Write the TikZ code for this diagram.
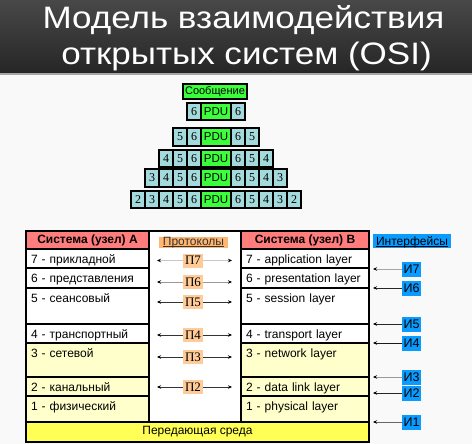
\documentclass[tikz,border=0pt]{standalone}
\usepackage{fontspec}
\setmainfont{Liberation Sans}
\newfontfamily\serifface{Liberation Serif}
\newfontfamily\titleface[FakeStretch=1.13]{Liberation Sans}
\usetikzlibrary{positioning,arrows.meta}

\definecolor{bartop}{RGB}{72,72,72}
\definecolor{barbot}{RGB}{38,38,38}
\definecolor{bodybg}{RGB}{249,249,249}
\definecolor{cellblue}{RGB}{164,218,220}
\definecolor{pdugreen}{RGB}{60,255,60}
\definecolor{hdrred}{RGB}{255,125,125}
\definecolor{paleyel}{RGB}{255,255,204}
\definecolor{medyel}{RGB}{255,255,85}
\definecolor{protorange}{RGB}{255,182,112}
\definecolor{plabel}{RGB}{255,204,153}
\definecolor{iblue}{RGB}{10,155,255}

\newcommand{\tabfont}{\fontsize{12}{14}\selectfont}
\newcommand{\uline}[1]{\setbox0\hbox{#1}\rlap{\rule[-1.6pt]{\wd0}{0.9pt}}\box0}

\tikzset{
  cell/.style={draw, line width=1.6pt, fill=cellblue, minimum width=14pt, minimum height=17.5pt,
    inner sep=0pt, outer sep=0pt, font=\serifface\fontsize{12}{14}\selectfont},
  pdu/.style={cell, fill=pdugreen, minimum width=30pt, font=\fontsize{11.5}{13}\selectfont},
  hdr/.style={draw, line width=2pt, fill=hdrred, minimum height=18pt, inner sep=0pt, outer sep=0pt,
    font=\bfseries\tabfont},
  layer/.style={draw, line width=2pt, fill=white, align=left, inner xsep=5pt, inner ysep=3pt,
    outer sep=0pt, text height=11.5pt, text depth=#1, font=\tabfont},
  layA/.style={layer=#1, text width=113pt},
  layB/.style={layer=#1, text width=118pt},
  plab/.style={fill=plabel, inner sep=0pt, minimum width=20pt, minimum height=14pt,
    font=\serifface\fontsize{13}{15}\selectfont},
  ilab/.style={fill=iblue, inner sep=0pt, minimum width=19pt, minimum height=15pt,
    font=\fontsize{12.5}{15}\selectfont},
  title/.style={text=white, inner sep=0pt, font=\titleface\fontsize{31}{37}\selectfont}
}

\begin{document}
\begin{tikzpicture}[x=1pt,y=-1pt,node distance=0pt,
    >={Stealth[length=4pt,width=3.5pt,color=black]}, line width=0.8pt]
  \useasboundingbox (0,0) rectangle (472,444);
  \fill[bodybg] (0,0) rectangle (472,444);
  \shade[top color=bartop, bottom color=barbot] (0,0) rectangle (472,73);
  \fill[black!35] (0,73) rectangle (472,75);

  \node[title, anchor=base] (t1) at (243.5,28.3) {Модель взаимодействия};
  \node[title, anchor=base] (t2) at (246.5,65) {открытых систем (OSI)};

  % pyramid
  \node[pdu, minimum width=64pt, minimum height=15pt, font=\fontsize{11}{13}\selectfont] (msg) at (215,91.5) {Сообщение};

  \node[pdu] (pdu1) at (216,111.5) {PDU};
  \node[cell, left=of pdu1] (l16) {6};
  \node[cell, right=of pdu1] (r16) {6};

  \node[pdu] (pdu2) at (216,137) {PDU};
  \node[cell, left=of pdu2] (l26) {6};
  \node[cell, left=of l26] (l25) {5};
  \node[cell, right=of pdu2] (r26) {6};
  \node[cell, right=of r26] (r25) {5};

  \node[pdu] (pdu3) at (216,158.5) {PDU};
  \node[cell, left=of pdu3] (l36) {6};
  \node[cell, left=of l36] (l35) {5};
  \node[cell, left=of l35] (l34) {4};
  \node[cell, right=of pdu3] (r36) {6};
  \node[cell, right=of r36] (r35) {5};
  \node[cell, right=of r35] (r34) {4};

  \node[pdu] (pdu4) at (216,178) {PDU};
  \node[cell, left=of pdu4] (l46) {6};
  \node[cell, left=of l46] (l45) {5};
  \node[cell, left=of l45] (l44) {4};
  \node[cell, left=of l44] (l43) {3};
  \node[cell, right=of pdu4] (r46) {6};
  \node[cell, right=of r46] (r45) {5};
  \node[cell, right=of r45] (r44) {4};
  \node[cell, right=of r44] (r43) {3};

  \node[pdu] (pdu5) at (216,199.5) {PDU};
  \node[cell, left=of pdu5] (l56) {6};
  \node[cell, left=of l56] (l55) {5};
  \node[cell, left=of l55] (l54) {4};
  \node[cell, left=of l54] (l53) {3};
  \node[cell, left=of l53] (l52) {2};
  \node[cell, right=of pdu5] (r56) {6};
  \node[cell, right=of r56] (r55) {5};
  \node[cell, right=of r55] (r54) {4};
  \node[cell, right=of r54] (r53) {3};
  \node[cell, right=of r53] (r52) {2};

  % table
  \node[draw, line width=2pt, fill=white, minimum width=343pt, minimum height=211pt,
    inner sep=0pt, outer sep=0pt, anchor=north west] (tbl) at (26,231) {};

  \node[hdr, minimum width=123pt, anchor=north west] (hA) at (tbl.north west) {Система (узел) A};
  \node[layA=1.5pt, below=of hA] (a7) {7 - прикладной};
  \node[layA=2.5pt, below=of a7] (a6) {6 - представления};
  \node[layA=18.5pt, below=of a6] (a5) {5 - сеансовый};
  \node[layA=1.5pt, below=of a5] (a4) {4 - транспортный};
  \node[layA=16.5pt, fill=paleyel, below=of a4] (a3) {3 - сетевой};
  \node[layA=1.5pt, fill=paleyel, below=of a3] (a2) {2 - канальный};
  \node[layA=8.5pt, fill=paleyel, below=of a2] (a1) {1 - физический};

  \node[hdr, minimum width=128pt, anchor=north east] (hB) at (tbl.north east) {Система (узел) B};
  \node[layB=1.5pt, below=of hB] (b7) {7 - application layer};
  \node[layB=2.5pt, below=of b7] (b6) {6 - presentation layer};
  \node[layB=18.5pt, below=of b6] (b5) {5 - session layer};
  \node[layB=1.5pt, below=of b5] (b4) {4 - transport layer};
  \node[layB=16.5pt, fill=paleyel, below=of b4] (b3) {3 - network layer};
  \node[layB=1.5pt, fill=paleyel, below=of b3] (b2) {2 - data link layer};
  \node[layB=8.5pt, fill=paleyel, below=of b2] (b1) {1 - physical layer};

  \node[draw, line width=2pt, fill=medyel, minimum width=343pt, minimum height=20pt,
    inner sep=0pt, outer sep=0pt, anchor=south, font=\tabfont] (med) at (tbl.south) {Передающая среда};

  % protocols
  \node[fill=protorange, inner sep=0pt, minimum width=69pt, text height=8.5pt, text depth=2.5pt,
    text=black!80, font=\tabfont] (prot) at (193.5,242.5) {\uline{Протоколы}};
  \node[plab] (p7) at (193,260.5) {П7};
  \node[plab] (p6) at (193,282) {П6};
  \node[plab] (p5) at (193,302) {П5};
  \node[plab] (p4) at (193,335) {П4};
  \node[plab] (p3) at (193,357) {П3};
  \node[plab] (p2) at (193,387) {П2};

  \path[->, shorten >=8pt]
  (p7) edge [black!22] (p7 -| a7.east)
  (p6) edge [black!40] (p6 -| a6.east)
  (p5) edge [black!80] (p5 -| a5.east)
  (p4) edge [black!80] (p4 -| a4.east)
  (p3) edge [black!80] (p3 -| a3.east)
  (p2) edge [black!80] (p2 -| a2.east);
  \path[->, shorten >=9pt]
  (p7) edge [black!22] (p7 -| b7.west)
  (p6) edge [black!40] (p6 -| b6.west)
  (p5) edge [black!80] (p5 -| b5.west)
  (p4) edge [black!80] (p4 -| b4.west)
  (p3) edge [black!80] (p3 -| b3.west)
  (p2) edge [black!80] (p2 -| b2.west);

  % interfaces
  \node[fill=iblue, inner sep=0pt, minimum width=78pt, inner ysep=1pt, text height=10.5pt,
    text depth=1.5pt, font=\tabfont] (intf) at (412,241) {\uline{Интерфейсы}};
  \node[ilab] (i7) at (411.5,269) {И7};
  \node[ilab] (i6) at (411.5,288) {И6};
  \node[ilab] (i5) at (411.5,324) {И5};
  \node[ilab] (i4) at (411.5,343) {И4};
  \node[ilab] (i3) at (411.5,377) {И3};
  \node[ilab] (i2) at (411.5,393) {И2};
  \node[ilab] (i1) at (411.5,422) {И1};

  \path[->, shorten >=4pt]
  (i7) edge [black!35] (i7 -| tbl.east)
  (i6) edge [black!85] (i6 -| tbl.east)
  (i5) edge [black!85] (i5 -| tbl.east)
  (i4) edge [black!90] (i4 -| tbl.east)
  (i3) edge [black!40] (i3 -| tbl.east)
  (i2) edge [black!85] (i2 -| tbl.east)
  (i1) edge [black!60] (i1 -| tbl.east);
\end{tikzpicture}
\end{document}
